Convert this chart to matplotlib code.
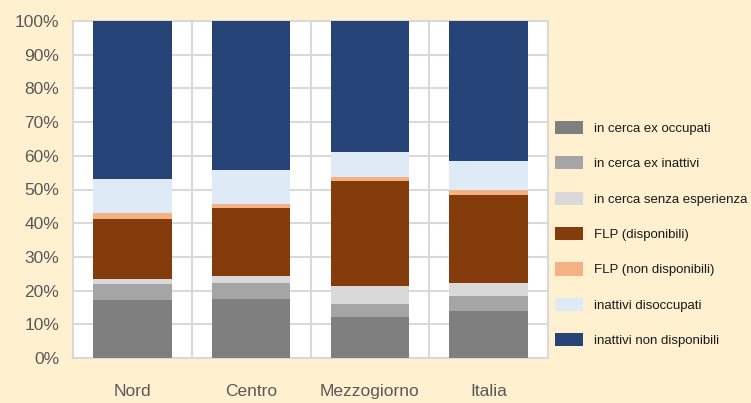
import matplotlib
matplotlib.use("Agg")
import matplotlib.pyplot as plt
import numpy as np
from matplotlib.patches import Patch

categories = ["Nord", "Centro", "Mezzogiorno", "Italia"]
series_names = [
    "in cerca ex occupati",
    "in cerca ex inattivi",
    "in cerca senza esperienza",
    "FLP (disponibili)",
    "FLP (non disponibili)",
    "inattivi disoccupati",
    "inattivi non disponibili",
]
in_cerca_ex_occupati = [17.2, 17.5, 12.3, 14.0]
in_cerca_ex_inattivi = [4.8, 4.8, 3.6, 4.3]
in_cerca_senza_esperienza = [1.5, 2.0, 5.6, 4.0]
flp_disponibili = [17.6, 20.3, 30.9, 26.2]
flp_non_disponibili = [1.8, 1.0, 1.3, 1.4]
inattivi_disoccupati = [10.3, 10.3, 7.4, 8.6]
inattivi_non_disponibili = [46.8, 44.1, 38.9, 41.5]
y_ticks = [0, 10, 20, 30, 40, 50, 60, 70, 80, 90, 100]

values = [in_cerca_ex_occupati, in_cerca_ex_inattivi, in_cerca_senza_esperienza,
          flp_disponibili, flp_non_disponibili, inattivi_disoccupati, inattivi_non_disponibili]
colors = ["#7F7F7F", "#A5A5A5", "#D9D9D9", "#843C0C", "#F4B183", "#DEEBF7", "#264478"]

plt.rcParams['font.family'] = ['Liberation Sans', 'DejaVu Sans']
bg = "#FFF0CF"
fig = plt.figure(figsize=(7.51, 4.03), dpi=100, facecolor=bg)
ax = fig.add_axes([73/751, 1-358/403, (548-73)/751, (358-21)/403])
ax.set_facecolor("white")

x = np.arange(len(categories))
bottom = np.zeros(len(categories))
for name, vals, c in zip(series_names, values, colors):
    v = np.array(vals)
    ax.bar(x, v, bottom=bottom, width=0.66, color=c, label=name, zorder=3)
    bottom += v

ax.set_xlim(-0.5, len(categories) - 0.5)
ax.set_ylim(0, 100)
ax.set_yticks(y_ticks)
ax.set_yticklabels([f"{t}%" for t in y_ticks])
ax.set_xticks(x)
ax.set_xticklabels(categories)
ax.set_xticks(np.arange(len(categories) + 1) - 0.5, minor=True)
ax.grid(axis='y', color="#D9D9D9", linewidth=1.5, zorder=0)
ax.grid(axis='x', which='minor', color="#D9D9D9", linewidth=1.5, zorder=0)
ax.tick_params(axis='both', which='both', length=0, colors="#595959", labelsize=12.5)
ax.tick_params(axis='x', pad=19)
ax.tick_params(axis='y', pad=10)
for s in ax.spines.values():
    s.set_color("#D9D9D9")
    s.set_linewidth(1.5)

handles = [Patch(facecolor=c, edgecolor='none') for c in colors]
fig.legend(handles, series_names, loc='upper left', bbox_to_anchor=(543/751, 1-109/403),
           frameon=False, fontsize=9.5, labelcolor="#1a1a1a", handlelength=2.1,
           handleheight=1.15, labelspacing=1.62, handletextpad=0.9)

fig.savefig("out.png", dpi=100, facecolor=bg)
